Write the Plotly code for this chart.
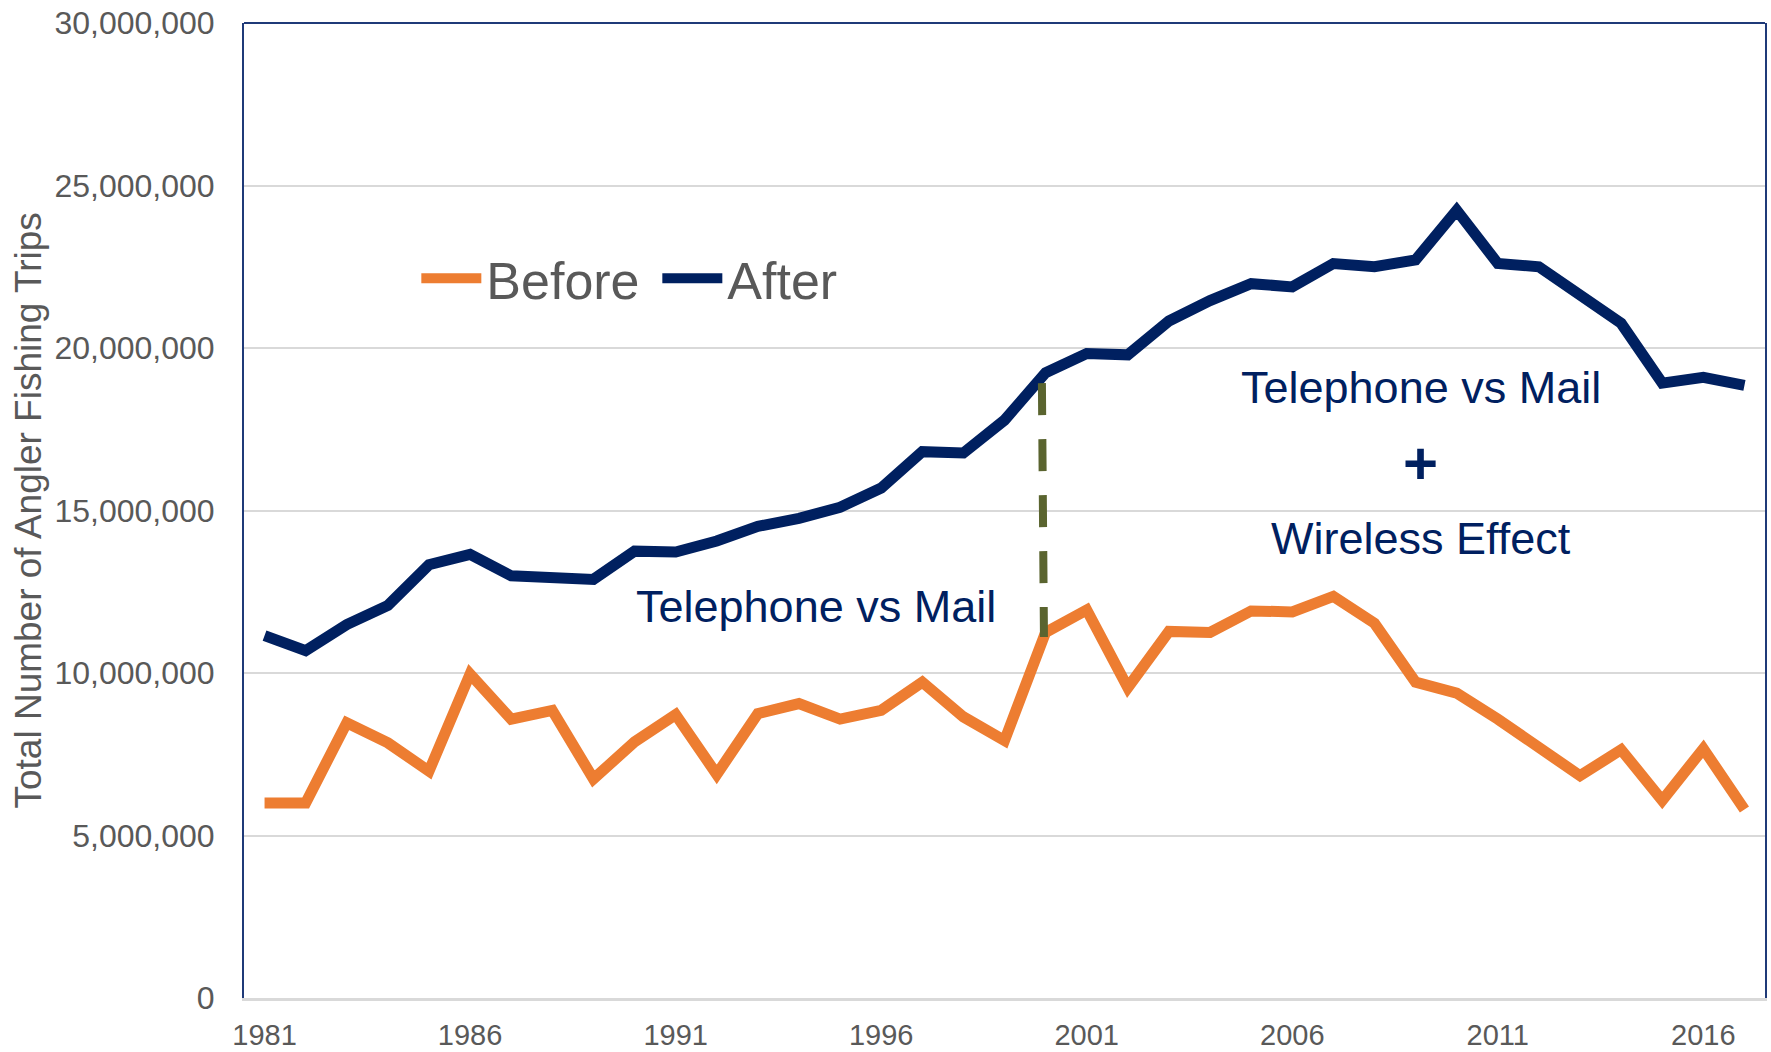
import plotly.graph_objects as go

years = list(range(1981, 2018))
before = [6.00, 6.00, 8.47, 7.85, 6.98, 9.97, 8.58, 8.85, 6.74, 7.88,
          8.72, 6.88, 8.75, 9.06, 8.58, 8.85, 9.72, 8.65, 7.92, 11.25,
          11.94, 9.55, 11.28, 11.25, 11.91, 11.88, 12.36, 11.53, 9.72, 9.38,
          8.58, 7.74, 6.84, 7.64, 6.08, 7.67, 5.80]
after = [11.15, 10.69, 11.49, 12.08, 13.33, 13.65, 12.99, 12.92, 12.88, 13.75,
         13.72, 14.06, 14.51, 14.76, 15.10, 15.69, 16.81, 16.77, 17.78, 19.24,
         19.83, 19.79, 20.83, 21.46, 21.98, 21.88, 22.60, 22.50, 22.71, 24.24,
         22.60, 22.50, 21.67, 20.76, 18.92, 19.10, 18.85]
before = [v * 1e6 for v in before]
after = [v * 1e6 for v in after]

gap_x = [1999.91, 1999.96]
gap_y = [18.92e6, 11.11e6]

tick_years = [1981, 1986, 1991, 1996, 2001, 2006, 2011, 2016]
tick_labels = [str(y) for y in tick_years]

SANS = "Liberation Sans, Arial, sans-serif"
NAVY = "#002060"
ORANGE = "#ED7D31"
GRAY = "#595959"

fig = go.Figure()
fig.add_trace(go.Scatter(x=years, y=before, mode="lines", name="Before",
                         line=dict(color=ORANGE, width=11)))
fig.add_trace(go.Scatter(x=years, y=after, mode="lines", name="After",
                         line=dict(color=NAVY, width=11)))
fig.add_trace(go.Scatter(x=gap_x, y=gap_y, mode="lines", showlegend=False,
                         line=dict(color="#5A642F", width=8, dash="32px,24px")))

ann_font = dict(family=SANS, size=45, color=NAVY)
fig.add_annotation(x=1994.41, y=12.06e6, text="Telephone vs Mail", showarrow=False,
                   font=ann_font, xanchor="center", yanchor="middle")
fig.add_annotation(x=2009.13, y=18.78e6, text="Telephone vs Mail", showarrow=False,
                   font=ann_font, xanchor="center", yanchor="middle")
fig.add_annotation(x=2009.13, y=16.46e6, text="<b>+</b>", showarrow=False,
                   font=dict(family=SANS, size=60, color=NAVY), xanchor="center", yanchor="middle")
fig.add_annotation(x=2009.13, y=14.14e6, text="Wireless Effect", showarrow=False,
                   font=ann_font, xanchor="center", yanchor="middle")

# y-axis title
fig.add_annotation(xref="paper", yref="paper", x=-0.142, y=0.5, textangle=-90,
                   text="Total Number of Angler Fishing Trips", showarrow=False,
                   font=dict(family=SANS, size=37, color=GRAY),
                   xanchor="center", yanchor="middle")

# top border of plot frame
fig.add_shape(type="line", xref="paper", yref="paper", x0=0, x1=1, y0=1, y1=1,
              line=dict(color="#1F3A78", width=2))

fig.update_layout(
    width=1771, height=1052,
    margin=dict(l=244, r=6, t=23, b=54),
    paper_bgcolor="white", plot_bgcolor="white",
    font=dict(family=SANS, color=GRAY),
    legend=dict(orientation="h", x=0.1133, y=0.738, xanchor="left", yanchor="middle",
                font=dict(family=SANS, size=52, color=GRAY),
                bgcolor="rgba(0,0,0,0)", itemwidth=60, tracegroupgap=0,
                entrywidth=166),
    xaxis=dict(range=[1980.5, 2017.5], tickmode="array", tickvals=tick_years,
               ticktext=tick_labels, showgrid=False, zeroline=False,
               showline=True, linecolor="#D9D9D9", linewidth=3, automargin=False,
               ticks="", tickfont=dict(family=SANS, size=29, color=GRAY),
               ticklabelstandoff=9, ticklabeloverflow="allow"),
    yaxis=dict(range=[0, 30e6], dtick=5e6, tickformat=",d", showgrid=True,
               gridcolor="#D9D9D9", gridwidth=2, zeroline=False, automargin=False,
               showline=True, mirror=True, linecolor="#1F3A78", linewidth=2,
               ticks="", tickfont=dict(family=SANS, size=32, color=GRAY),
               ticklabelstandoff=21, ticklabeloverflow="allow"),
)

fig.write_html("out.html", config={"displayModeBar": False},
               post_script="document.body.style.margin='0';")
